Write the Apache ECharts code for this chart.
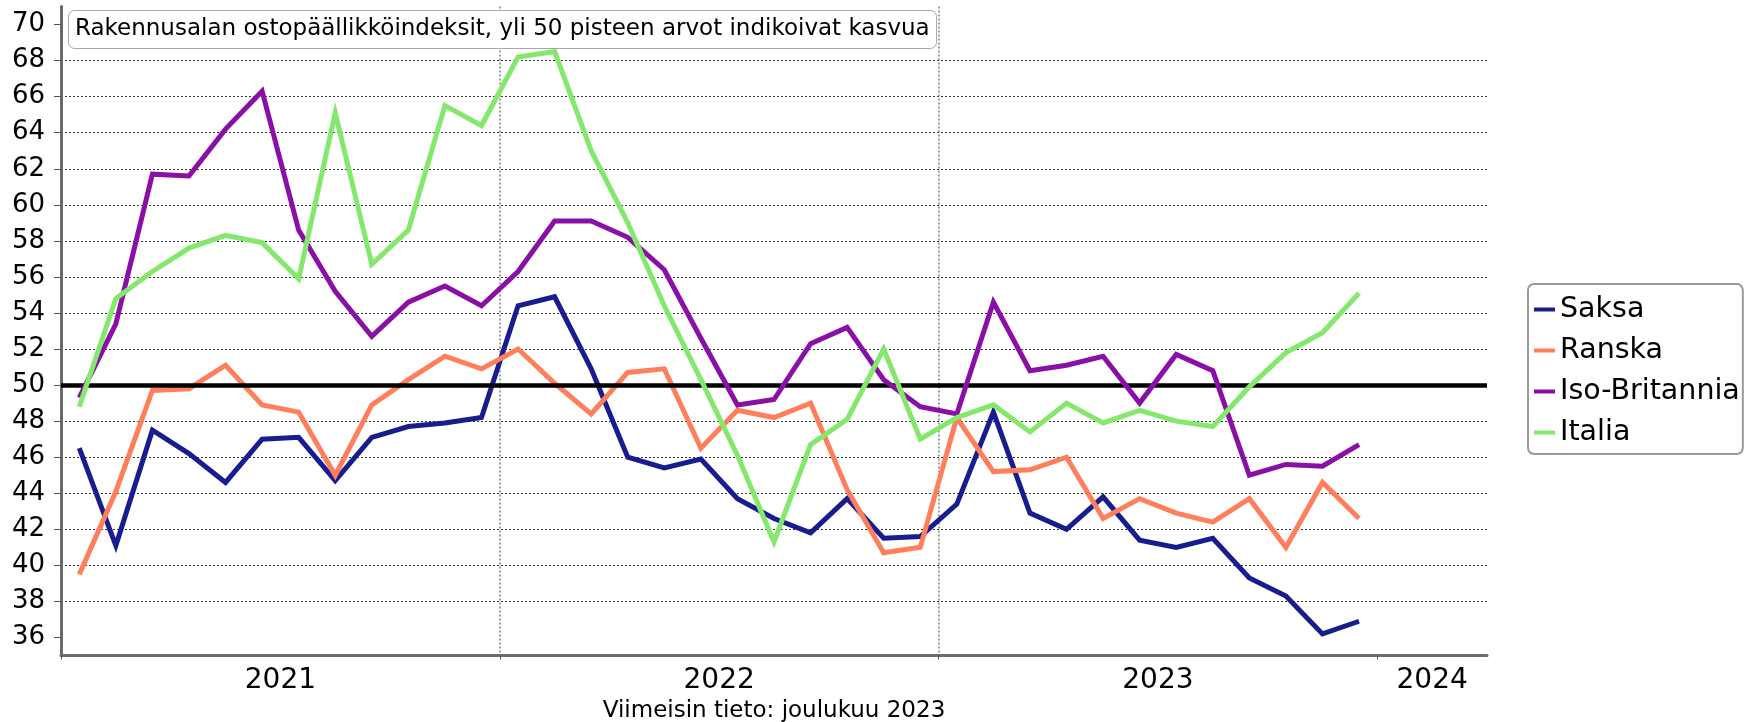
<!DOCTYPE html>
<html>
<head>
<meta charset="utf-8">
<script src="https://cdn.jsdelivr.net/npm/echarts@6/dist/echarts.min.js"></script>
<style>
html,body{margin:0;padding:0;background:#ffffff;}
#chart{width:1744px;height:722px;}
</style>
</head>
<body>
<div id="chart"></div>
<script>
// Monthly observations, Jan 2021 .. Dec 2023
const months = [
  '2021-01','2021-02','2021-03','2021-04','2021-05','2021-06','2021-07','2021-08','2021-09','2021-10','2021-11','2021-12',
  '2022-01','2022-02','2022-03','2022-04','2022-05','2022-06','2022-07','2022-08','2022-09','2022-10','2022-11','2022-12',
  '2023-01','2023-02','2023-03','2023-04','2023-05','2023-06','2023-07','2023-08','2023-09','2023-10','2023-11','2023-12'
];
const seriesNames = ['Saksa', 'Ranska', 'Iso-Britannia', 'Italia'];
const saksa = [46.5, 41.1, 47.5, 46.2, 44.6, 47.0, 47.1, 44.7, 47.1, 47.7, 47.9, 48.2,
               54.4, 54.9, 50.9, 46.0, 45.4, 45.9, 43.7, 42.6, 41.8, 43.7, 41.5, 41.6,
               43.4, 48.5, 42.9, 42.0, 43.8, 41.4, 41.0, 41.5, 39.3, 38.3, 36.2, 36.9];
const ranska = [39.5, 44.1, 49.7, 49.8, 51.1, 48.9, 48.5, 45.0, 48.9, 50.3, 51.6, 50.9,
                52.0, 50.1, 48.4, 50.7, 50.9, 46.5, 48.6, 48.2, 49.0, 44.2, 40.7, 41.0,
                48.2, 45.2, 45.3, 46.0, 42.6, 43.7, 42.9, 42.4, 43.7, 41.0, 44.6, 42.6];
const isoBritannia = [49.3, 53.4, 61.7, 61.6, 64.2, 66.3, 58.6, 55.2, 52.7, 54.6, 55.5, 54.4,
                      56.3, 59.1, 59.1, 58.2, 56.4, 52.6, 48.9, 49.2, 52.3, 53.2, 50.3, 48.8,
                      48.4, 54.6, 50.8, 51.1, 51.6, 49.0, 51.7, 50.8, 45.0, 45.6, 45.5, 46.7];
const italia = [48.8, 54.8, 56.3, 57.6, 58.3, 57.9, 55.9, 65.1, 56.7, 58.6, 65.5, 64.4,
                68.2, 68.5, 63.0, 59.0, 54.4, 50.3, 46.1, 41.3, 46.7, 48.1, 52.0, 47.0,
                48.2, 48.9, 47.4, 49.0, 47.9, 48.6, 48.0, 47.7, 49.9, 51.8, 52.9, 55.1];
const yearLabels = ['2021', '2022', '2023', '2024'];
const yTicks = [36, 38, 40, 42, 44, 46, 48, 50, 52, 54, 56, 58, 60, 62, 64, 66, 68, 70];
const referenceLevel = 50;
const titleText = 'Rakennusalan ostopäällikköindeksit, yli 50 pisteen arvot indikoivat kasvua';
const noteText = 'Viimeisin tieto: joulukuu 2023';

const colors = ['#171d8e', '#ff7f5c', '#8a0fa6', '#84e86c'];
const allValues = [saksa, ranska, isoBritannia, italia];

// x axis in months since Jan 2021 (axis runs to end of March 2024)
const xMax = 39;
const yearStarts = yearLabels.map((y, i) => 12 * i);
const yearCenters = yearStarts.map(s => (s + Math.min(s + 12, xMax)) / 2);

const FONT = 'DejaVu Sans';

const chart = echarts.init(document.getElementById('chart'), null, {renderer: 'canvas'});

const series = seriesNames.map((name, k) => ({
  name: name,
  type: 'line',
  data: months.map((m, i) => [i + 0.5, allValues[k][i]]),
  symbol: 'none',
  lineStyle: {width: 5, color: colors[k], join: 'miter'},
  itemStyle: {color: colors[k]},
  z: 3 + k,
  animation: false
}));
series[0].markLine = {
  silent: true,
  symbol: 'none',
  label: {show: false},
  lineStyle: {color: '#000', width: 4.5, type: 'solid'},
  data: [{yAxis: referenceLevel}],
  animation: false
};

chart.setOption({
  animation: false,
  backgroundColor: '#ffffff',
  textStyle: {fontFamily: FONT},
  title: {
    text: titleText,
    left: 68,
    top: 10,
    padding: [7, 7, 7, 7],
    borderColor: '#a8a8a8',
    borderWidth: 1,
    borderRadius: 6,
    backgroundColor: '#ffffff',
    textStyle: {fontFamily: FONT, fontSize: 23, fontWeight: 'normal', color: '#000', lineHeight: 25}
  },
  legend: {
    orient: 'vertical',
    left: 1528,
    top: 284,
    padding: [11, 3, 7, 6],
    itemGap: 12,
    itemWidth: 21,
    itemHeight: 4,
    icon: 'rect',
    borderColor: '#9a9a9a',
    borderWidth: 2,
    borderRadius: 6,
    textStyle: {fontFamily: FONT, fontSize: 28.5, color: '#000', lineHeight: 27},
    data: seriesNames
  },
  grid: {left: 61, right: 257, top: 6.5, bottom: 66.5, containLabel: false, outerBoundsMode: 'none'},
  xAxis: {
    type: 'value',
    min: 0,
    max: xMax,
    name: noteText,
    nameLocation: 'middle',
    nameGap: 43.5,
    nameTextStyle: {fontFamily: FONT, fontSize: 23, color: '#000'},
    axisLine: {show: true, lineStyle: {color: '#6b6b6b', width: 3}},
    axisTick: {show: true, customValues: yearStarts, length: 4, lineStyle: {color: '#555', width: 1}},
    axisLabel: {
      show: true,
      customValues: yearCenters,
      margin: 11,
      fontFamily: FONT,
      fontSize: 28,
      color: '#000',
      formatter: function (v) {
        const idx = yearCenters.indexOf(v);
        return idx >= 0 ? yearLabels[idx] : '';
      }
    },
    splitLine: {show: true, showMinLine: false, showMaxLine: false, lineStyle: {color: '#808080', width: 1.5, type: [2, 2]}}
  },
  yAxis: {
    type: 'value',
    min: 35,
    max: 71,
    axisLine: {show: true, lineStyle: {color: '#6b6b6b', width: 3}},
    axisTick: {show: true, customValues: yTicks, length: 7, lineStyle: {color: '#555', width: 1}},
    axisLabel: {show: true, customValues: yTicks, margin: 16, fontFamily: FONT, fontSize: 26, color: '#000'},
    splitLine: {show: true, showMinLine: false, showMaxLine: false, lineStyle: {color: '#333', width: 1, type: [2, 2]}}
  },
  series: series
});
</script>
</body>
</html>
